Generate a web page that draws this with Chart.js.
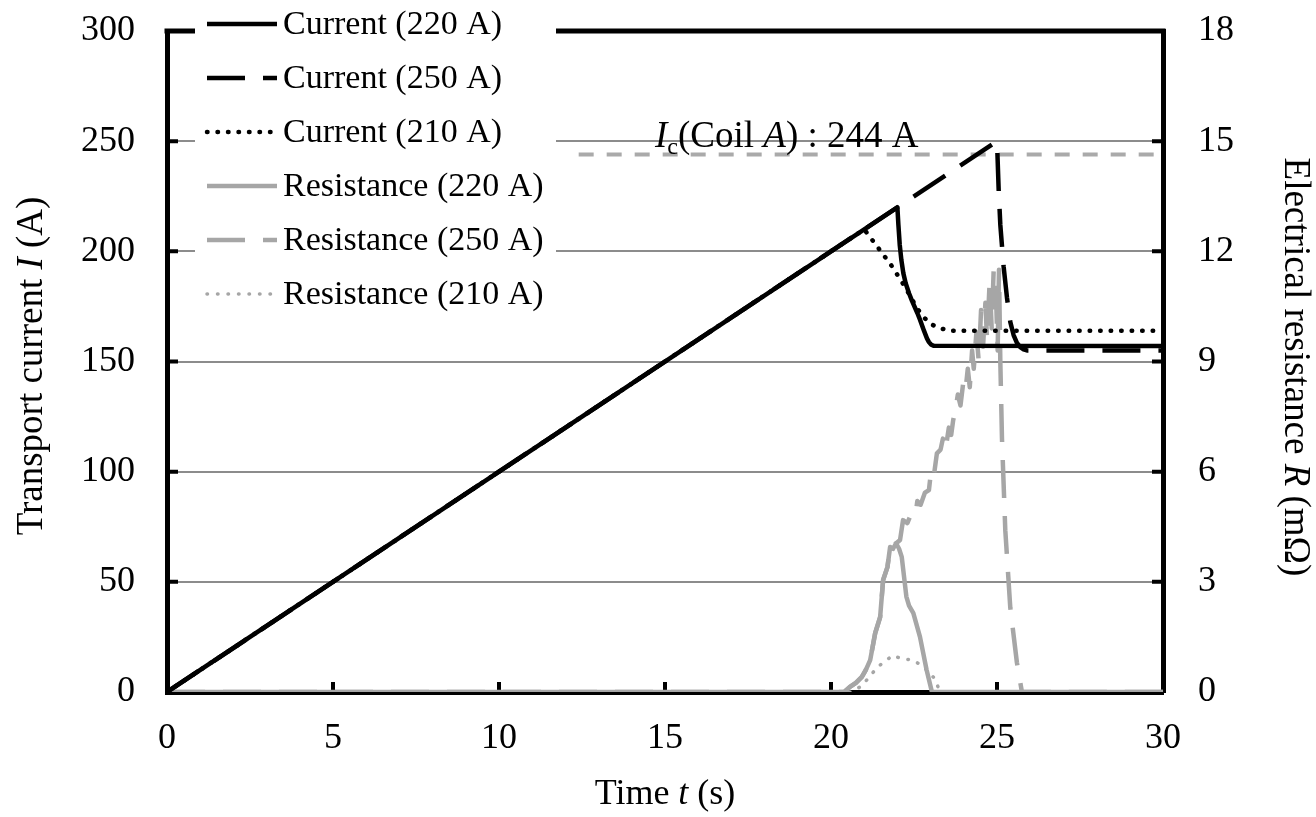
<!DOCTYPE html>
<html>
<head>
<meta charset="utf-8">
<script src="https://cdn.jsdelivr.net/npm/chart.js@4.4.1/dist/chart.umd.min.js"></script>
<style>
html,body{margin:0;padding:0;background:#fff;}
#wrap{width:1316px;height:817px;position:relative;}
</style>
</head>
<body>
<div id="wrap"><canvas id="c"></canvas></div>
<script>
// ---- data ----
const tCur220 = [0, 22, 22.03, 22.07, 22.12, 22.18, 22.25, 22.35, 22.44, 22.6, 22.68, 22.8, 22.89, 22.95, 23.02, 23.1, 30];
const iCur220 = [0, 220, 212, 203, 196, 190, 185.5, 181, 177.5, 172, 169, 164, 160.5, 158.8, 157.6, 157.1, 157];

const tCur250 = [0, 25, 25.05, 25.1, 25.2, 25.3, 25.4, 25.5, 25.6, 25.7, 25.8, 25.9, 30];
const iCur250 = [0, 250, 228, 212, 193, 179, 168, 162, 158.5, 156.5, 155.5, 155, 155];

const tCur210 = [0, 21, 21.2, 21.5, 21.8, 22.1, 22.3, 22.6, 22.8, 23.0, 23.3, 23.6, 30];
const iCur210 = [0, 210, 206, 200, 194, 187, 182, 174, 170, 167, 165, 164, 164];

const tRes220 = [0, 20.4, 20.57, 20.75, 20.93, 21.05, 21.18, 21.33, 21.48, 21.57, 21.7, 21.78, 21.87, 21.96, 22.05, 22.13, 22.27, 22.35, 22.48, 22.68, 22.88, 23.04, 30];
const rRes220 = [0, 0, 0.14, 0.25, 0.41, 0.6, 0.87, 1.6, 2.04, 3.05, 3.4, 3.95, 3.9, 4.05, 3.9, 3.68, 2.6, 2.35, 2.15, 1.5, 0.6, 0, 0];

const tRes250 = [0, 20.4, 20.57, 20.75, 20.93, 21.05, 21.18, 21.33, 21.48, 21.57, 21.7, 21.78, 21.9, 22.08, 22.17, 22.3, 22.44, 22.55, 22.6, 22.7, 22.83, 22.95, 23.0, 23.08, 23.19, 23.3, 23.37, 23.45, 23.55, 23.62, 23.68, 23.75, 23.82, 23.9, 23.98, 24.05, 24.12, 24.18, 24.25, 24.3, 24.38, 24.45, 24.52, 24.58, 24.65, 24.7, 24.78, 24.84, 24.9, 24.95, 25.02, 25.06, 25.1, 25.15, 25.25, 25.4, 25.6, 25.75, 30];
const rRes250 = [0, 0, 0.14, 0.25, 0.41, 0.6, 0.87, 1.6, 2.04, 3.05, 3.4, 3.95, 4.0, 4.14, 4.68, 4.6, 4.9, 4.85, 5.2, 5.1, 5.43, 5.5, 5.9, 5.77, 6.5, 6.6, 6.9, 6.6, 7.2, 7.0, 7.4, 7.7, 8.1, 7.8, 8.4, 8.2, 8.8, 8.3, 9.3, 8.8, 9.8, 9.0, 10.4, 9.4, 10.6, 9.6, 11.2, 9.9, 11.5, 11.4, 9.3, 11.5, 9.0, 6.9, 4.4, 2.3, 0.8, 0, 0];

const tRes210 = [0, 20.6, 20.9, 21.1, 21.4, 21.63, 21.87, 22.13, 22.44, 22.7, 22.95, 23.13, 23.25, 23.3, 30];
const rRes210 = [0, 0, 0.15, 0.35, 0.68, 0.84, 1.0, 0.9, 0.88, 0.74, 0.55, 0.35, 0.08, 0, 0];

const tIc = [12.4, 30];
const iIc = [244, 244];

const xTicks = [0, 5, 10, 15, 20, 25, 30];
const yTicks = [0, 50, 100, 150, 200, 250, 300];
const y1Ticks = [0, 3, 6, 9, 12, 15, 18];

const legendLabels = ['Current (220 A)', 'Current (250 A)', 'Current (210 A)', 'Resistance (220 A)', 'Resistance (250 A)', 'Resistance (210 A)'];

const pts = (t, v) => t.map((x, i) => ({x: x, y: v[i]}));

const SERIF = "'Liberation Serif', 'Times New Roman', serif";
const BLACK = '#000000';
const GRAY = '#a6a6a6';
const GRID = '#8c8c8c';

const styles = [
  {color: BLACK, width: 4.5, dash: [], cap: 'butt'},
  {color: BLACK, width: 4.5, dash: [38, 18], cap: 'butt'},
  {color: BLACK, width: 4.5, dash: [0.5, 10], cap: 'round'},
  {color: GRAY, width: 4.5, dash: [], cap: 'butt'},
  {color: GRAY, width: 4.5, dash: [38, 18], cap: 'butt'},
  {color: GRAY, width: 3.5, dash: [0.5, 10], cap: 'round'}
];

function ds(label, data, axis, st) {
  return {label: label, data: data, yAxisID: axis, borderColor: st.color, borderWidth: st.width,
    borderDash: st.dash, borderCapStyle: st.cap, borderJoinStyle: 'round', pointRadius: 0,
    tension: 0, fill: false};
}

const datasets = [
  ds(legendLabels[0], pts(tCur220, iCur220), 'y', styles[0]),
  ds(legendLabels[1], pts(tCur250, iCur250), 'y', styles[1]),
  ds(legendLabels[2], pts(tCur210, iCur210), 'y', styles[2]),
  ds(legendLabels[3], pts(tRes220, rRes220), 'y1', styles[3]),
  ds(legendLabels[4], pts(tRes250, rRes250), 'y1', styles[4]),
  ds(legendLabels[5], pts(tRes210, rRes210), 'y1', styles[5]),
  ds('Ic', pts(tIc, iIc), 'y', {color: '#aaaaaa', width: 4, dash: [15, 13], cap: 'butt'})
];

function drawRich(ctx, segs, cx, cy, rot, size) {
  ctx.save();
  ctx.translate(cx, cy);
  ctx.rotate(rot);
  ctx.fillStyle = '#000';
  ctx.textBaseline = 'alphabetic';
  ctx.textAlign = 'left';
  let total = 0;
  const fonts = segs.map(s => {
    const sz = s.sub ? size * 0.65 : size;
    return (s.italic ? 'italic ' : '') + sz + 'px ' + SERIF;
  });
  segs.forEach((s, i) => { ctx.font = fonts[i]; total += ctx.measureText(s.text).width; });
  let x = -total / 2;
  const base = size * 0.33;
  segs.forEach((s, i) => {
    ctx.font = fonts[i];
    ctx.fillText(s.text, x, base + (s.sub ? size * 0.2 : 0));
    x += ctx.measureText(s.text).width;
  });
  ctx.restore();
  return total;
}

const decor = {
  id: 'decor',
  beforeDatasetsDraw(chart) {
    const {ctx, chartArea: a, scales} = chart;
    ctx.save();
    ctx.strokeStyle = '#000';
    ctx.lineWidth = 5;
    ctx.beginPath();
    ctx.moveTo(a.left - 2.5, a.top);
    ctx.lineTo(a.right + 2.5, a.top);
    ctx.stroke();
    ctx.lineWidth = 4;
    ctx.beginPath();
    yTicks.forEach(v => { const y = scales.y.getPixelForValue(v); ctx.moveTo(a.left, y); ctx.lineTo(a.left + 11, y); });
    y1Ticks.forEach(v => { const y = scales.y1.getPixelForValue(v); ctx.moveTo(a.right, y); ctx.lineTo(a.right - 11, y); });
    xTicks.forEach(v => { const x = scales.x.getPixelForValue(v); ctx.moveTo(x, a.bottom); ctx.lineTo(x, a.bottom - 10); });
    ctx.stroke();
    ctx.restore();
  },
  afterDraw(chart) {
    const {ctx, chartArea: a} = chart;
    ctx.save();
    // legend box
    ctx.fillStyle = '#fff';
    ctx.fillRect(195, 0, 361, 305);
    const rows = legendLabels.map((_, i) => 24 + i * 54);
    legendLabels.forEach((lab, i) => {
      const st = styles[i];
      ctx.save();
      ctx.strokeStyle = st.color;
      ctx.lineWidth = st.width;
      ctx.setLineDash(st.dash);
      ctx.lineCap = st.cap;
      ctx.beginPath();
      ctx.moveTo(207, rows[i]);
      ctx.lineTo(277, rows[i]);
      ctx.stroke();
      ctx.restore();
      ctx.fillStyle = '#000';
      ctx.font = '34px ' + SERIF;
      ctx.textBaseline = 'middle';
      ctx.textAlign = 'left';
      ctx.fillText(lab, 283, rows[i] + 1);
    });
    ctx.restore();
    // Ic label
    const segs = [{text: 'I', italic: true}, {text: 'c', sub: true}, {text: '(Coil '}, {text: 'A', italic: true}, {text: ') : 244 A'}];
    ctx.save();
    ctx.fillStyle = '#000';
    let x = 655;
    segs.forEach(s => {
      const sz = s.sub ? 24 : 37;
      ctx.font = (s.italic ? 'italic ' : '') + sz + 'px ' + SERIF;
      ctx.fillText(s.text, x, 147 + (s.sub ? 7 : 0));
      x += ctx.measureText(s.text).width;
    });
    ctx.restore();
    // axis titles
    drawRich(ctx, [{text: 'Time '}, {text: 't', italic: true}, {text: ' (s)'}], (a.left + a.right) / 2, 792, 0, 36);
    drawRich(ctx, [{text: 'Transport current '}, {text: 'I', italic: true}, {text: ' (A)'}], 30, 366, -Math.PI / 2, 37);
    drawRich(ctx, [{text: 'Electrical resistance '}, {text: 'R', italic: true}, {text: ' (m\u03A9)'}], 1297, 367, Math.PI / 2, 37);
  }
};

const tickFont = {family: SERIF, size: 36};
function noPad(s) { s.paddingTop = 0; s.paddingBottom = 0; s.paddingLeft = 0; s.paddingRight = 0; }

new Chart(document.getElementById('c'), {
  type: 'line',
  data: {datasets: datasets},
  options: {
    responsive: true,
    maintainAspectRatio: false,
    animation: false,
    layout: {padding: {top: 31, left: 0, right: 0, bottom: 0}},
    plugins: {legend: {display: false}, tooltip: {enabled: false}},
    scales: {
      x: {
        type: 'linear', min: 0, max: 30,
        afterFit(s) { s.height = 125; noPad(s); },
        afterBuildTicks(s) { s.ticks = xTicks.map(v => ({value: v})); },
        grid: {display: false, drawTicks: false},
        border: {display: true, color: '#000', width: 5},
        ticks: {font: tickFont, color: '#000', padding: 25, maxRotation: 0}
      },
      y: {
        type: 'linear', position: 'left', min: 0, max: 300,
        afterFit(s) { s.width = 167; noPad(s); },
        afterBuildTicks(s) { s.ticks = yTicks.map(v => ({value: v})); },
        grid: {display: true, color: GRID, lineWidth: 2, drawTicks: false},
        border: {display: true, color: '#000', width: 5},
        ticks: {font: tickFont, color: '#000', padding: 32}
      },
      y1: {
        type: 'linear', position: 'right', min: 0, max: 18,
        afterFit(s) { s.width = 153; noPad(s); },
        afterBuildTicks(s) { s.ticks = y1Ticks.map(v => ({value: v})); },
        grid: {display: false, drawOnChartArea: false, drawTicks: false},
        border: {display: true, color: '#000', width: 5},
        ticks: {font: tickFont, color: '#000', padding: 35}
      }
    }
  },
  plugins: [decor]
});
</script>
</body>
</html>
